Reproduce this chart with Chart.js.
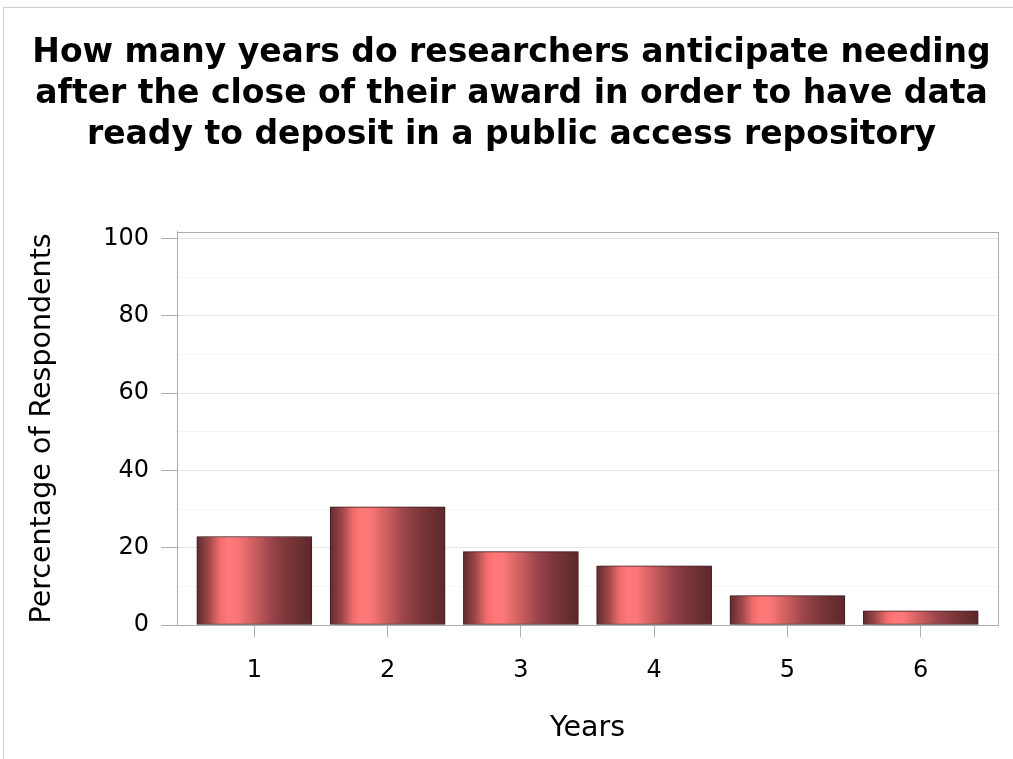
<!DOCTYPE html>
<html>
<head>
<meta charset="utf-8">
<script src="https://cdn.jsdelivr.net/npm/chart.js@4/dist/chart.umd.min.js"></script>
<style>
  html, body { margin: 0; padding: 0; background: #fff; }
  #wrap { position: absolute; left: 0; top: 0; width: 1013px; height: 759px; }
  #frame { position: absolute; left: 3px; top: 7px; right: 0; bottom: 0; border-left: 1px solid #cfcfcf; border-top: 1px solid #cfcfcf; }
  canvas { position: absolute; left: 0; top: 0; }
</style>
</head>
<body>
<div id="wrap">
  <div id="frame"></div>
  <canvas id="c" width="1013" height="759"></canvas>
</div>
<script>
const titleLines = [
  "How many years do researchers anticipate needing",
  "after the close of their award in order to have data",
  "ready to deposit in a public access repository"
];
const years = [1, 2, 3, 4, 5, 6];
const percentages = [22.9, 30.6, 19.0, 15.3, 7.6, 3.7];
const yTickValues = [0, 20, 40, 60, 80, 100];
const xAxisTitle = "Years";
const yAxisTitle = "Percentage of Respondents";

const FONT = "'DejaVu Sans', sans-serif";
const BAR_W = 115;

function barGradient(ctx) {
  const chart = ctx.chart;
  const xs = chart.scales && chart.scales.x;
  if (!xs || ctx.raw == null) return '#c05a5a';
  const cx = xs.getPixelForValue(ctx.raw.x);
  if (!isFinite(cx)) return '#c05a5a';
  const x0 = cx - BAR_W / 2, x1 = cx + BAR_W / 2;
  const g = chart.ctx.createLinearGradient(x0, 0, x1, 0);
  g.addColorStop(0.0, '#5f2a2e');
  g.addColorStop(0.1, '#9a4649');
  g.addColorStop(0.2, '#f06c6c');
  g.addColorStop(0.27, '#ff7878');
  g.addColorStop(0.35, '#fb7676');
  g.addColorStop(0.5, '#cb5e5e');
  g.addColorStop(0.65, '#98444a');
  g.addColorStop(0.8, '#7a3537');
  g.addColorStop(1.0, '#5c282b');
  return g;
}

const framePlugin = {
  id: 'frame',
  beforeDatasetDraw(chart) {
    const ctx = chart.ctx;
    ctx.save();
    ctx.shadowColor = 'rgba(0,0,0,0.22)';
    ctx.shadowBlur = 5;
    ctx.shadowOffsetX = 1;
    ctx.shadowOffsetY = 0;
  },
  afterDatasetDraw(chart) {
    chart.ctx.restore();
  },
  afterDraw(chart) {
    const { ctx, chartArea: a } = chart;
    ctx.save();
    ctx.strokeStyle = '#a7afb4';
    ctx.lineWidth = 1;
    ctx.strokeRect(Math.round(a.left) + 0.5, Math.round(a.top) + 0.5, Math.round(a.right - a.left), Math.round(a.bottom - a.top));
    ctx.restore();
  }
};

const chart = new Chart(document.getElementById('c'), {
  type: 'bar',
  data: {
    datasets: [{
      data: years.map((y, i) => ({ x: y, y: percentages[i] })),
      backgroundColor: barGradient,
      borderColor: '#4a2226',
      borderWidth: 1,
      borderSkipped: false,
      barThickness: BAR_W
    }]
  },
  options: {
    responsive: false,
    animation: false,
    devicePixelRatio: 1,
    layout: { padding: { left: 25, right: 15, top: 0, bottom: 13 } },
    plugins: {
      legend: { display: false },
      tooltip: { enabled: false },
      title: {
        display: true,
        text: titleLines,
        color: '#000',
        font: { family: FONT, size: 33, weight: 'bold', lineHeight: 1.24 },
        padding: { top: 33, bottom: 76 }
      }
    },
    scales: {
      x: {
        type: 'linear',
        offset: false,
        min: 0.42,
        max: 6.58,
        afterBuildTicks: (axis) => { axis.ticks = years.map(v => ({ value: v })); },
        ticks: { color: '#000', font: { family: FONT, size: 24 }, padding: 19, callback: v => String(v), maxRotation: 0 },
        grid: { display: true, offset: false, drawOnChartArea: false, drawTicks: true, tickLength: 12, tickColor: '#a7afb4', color: '#a7afb4' },
        border: { display: true, color: '#a7afb4' },
        title: { display: true, text: xAxisTitle, color: '#000', font: { family: FONT, size: 28.5, lineHeight: 1.2 }, padding: { top: 8, bottom: 0 } }
      },
      y: {
        type: 'linear',
        min: 0,
        max: 101.8,
        afterBuildTicks: (axis) => {
          const t = [];
          for (let v = 0; v <= 100; v += 10) t.push({ value: v });
          axis.ticks = t;
        },
        ticks: {
          color: '#000', font: { family: FONT, size: 24 }, padding: 12,
          callback: v => (yTickValues.includes(v) ? String(v) : '')
        },
        grid: {
          drawTicks: true, tickLength: 16,
          color: c => (c.tick && c.tick.value % 20 === 0 ? '#e4e6e7' : '#f4f4f4'),
          tickColor: c => (c.tick && c.tick.value % 20 === 0 ? '#a7afb4' : 'rgba(0,0,0,0)')
        },
        border: { display: true, color: '#a7afb4' },
        title: { display: true, text: yAxisTitle, color: '#000', font: { family: FONT, size: 28.5, lineHeight: 1.2 }, padding: { top: 0, bottom: 32 } }
      }
    }
  },
  plugins: [framePlugin]
});
chart.update();
</script>
</body>
</html>
